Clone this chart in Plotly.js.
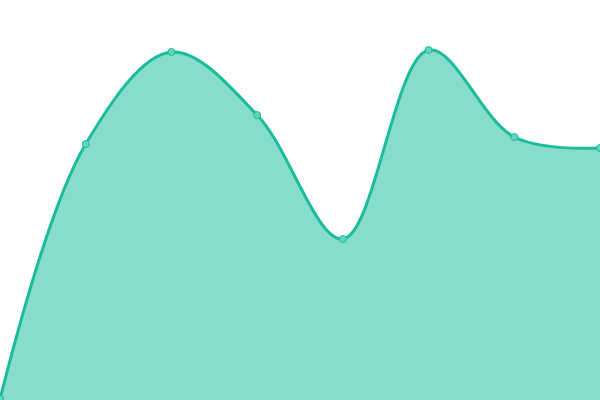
<!DOCTYPE html>
<html>
<head>
<meta charset="utf-8">
<script src="https://cdn.plot.ly/plotly-3.0.1.min.js"></script>
<style>html,body{margin:0;padding:0;background:#fff;}#chart{width:600px;height:400px;}</style>
</head>
<body>
<div id="chart"></div>
<script>
var categories = [0, 1, 2, 3, 4, 5, 6, 7];
var values = [1, 256, 348, 285, 161, 350, 263, 252];

var trace = {
  x: categories,
  y: values,
  type: 'scatter',
  mode: 'lines+markers',
  fill: 'tozeroy',
  fillcolor: 'rgba(26,188,156,0.52)',
  line: {shape: 'spline', smoothing: 1, color: '#1abc9c', width: 3},
  marker: {size: 7, color: '#5fd6bd', line: {color: '#1abc9c', width: 1}},
  hoverinfo: 'none'
};

var layout = {
  width: 600,
  height: 400,
  margin: {l: 0, r: 0, t: 0, b: 0, pad: 0},
  paper_bgcolor: '#ffffff',
  plot_bgcolor: '#ffffff',
  showlegend: false,
  xaxis: {range: [0, 7], visible: false, fixedrange: true},
  yaxis: {range: [0, 400], visible: false, fixedrange: true}
};

Plotly.newPlot('chart', [trace], layout, {displayModeBar: false, staticPlot: true});
</script>
</body>
</html>
